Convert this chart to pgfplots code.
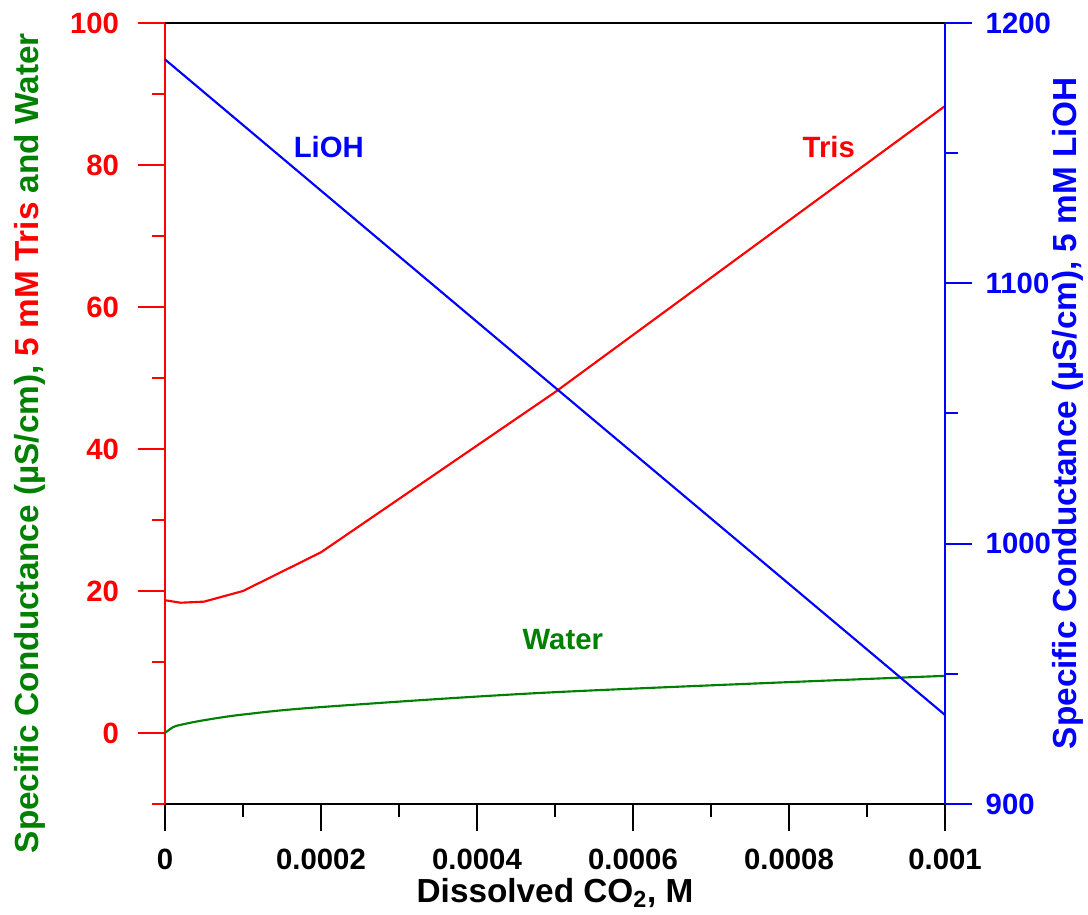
\documentclass[border=0pt]{standalone}
\usepackage{fontspec}
\setmainfont{Liberation Sans}
\usepackage{pgfplots}
\pgfplotsset{compat=1.18}
\definecolor{wgreen}{RGB}{0,128,0}

\pgfplotsset{
  condbase/.style={
    scale only axis,
    width=585pt, height=585.75pt,
    xmin=0, xmax=0.001,
    font=\fontsize{22}{26}\selectfont\bfseries,
    label style={font=\fontsize{25}{30}\selectfont\bfseries},
    /pgf/number format/assume math mode=true,
    /pgf/number format/set thousands separator={},
    tick align=outside,
    major tick length=20pt, minor tick length=10pt,
    every tick/.append style={line width=1.5pt},
    axis line style={line width=2pt},
    scaled x ticks=false, scaled y ticks=false,
    clip=false,
  },
}

\begin{document}
\begin{tikzpicture}
\path[use as bounding box] (-123.75pt,-82.5pt) rectangle (692.25pt,603pt);

% left axis: Tris and water
\begin{axis}[
  condbase,
  axis x line*=bottom, axis y line*=left,
  x axis line style={black}, x tick style={black},
  xtick={0,0.0002,0.0004,0.0006,0.0008,0.001},
  xticklabels={0,0.0002,0.0004,0.0006,0.0008,0.001},
  xticklabel style={yshift=-10pt},
  minor x tick num=1,
  ymin=-10, ymax=100,
  ytick={0,20,40,60,80,100}, minor y tick num=1,
  extra y ticks={-10}, extra y tick labels={},
  extra y tick style={major tick length=10pt},
  y axis line style={red}, y tick style={red},
  yticklabel style={red, xshift=-11pt},
  xlabel={Dissolved CO\textsubscript{2}, M},
  xlabel style={at={(axis description cs:0.5,-0.114)}, anchor=center},
  ylabel={\textcolor{wgreen}{Specific Conductance (\textmu S/cm),}~\textcolor{red}{5 mM Tris}~\textcolor{wgreen}{and Water}},
  ylabel style={at={(axis description cs:-0.173,0.462)}, anchor=center},
]
\addplot[red, line width=1.6pt] coordinates {
  (0,18.7) (0.00002,18.35) (0.00005,18.5) (0.0001,20.0)
  (0.0002,25.45) (0.0005,48.0) (0.001,88.3)
};
\addplot[wgreen, line width=1.6pt, smooth] coordinates {
  (0,0) (0.00001,0.8) (0.00002,1.15) (0.00005,1.8) (0.0001,2.6)
  (0.0002,3.65) (0.0005,5.75) (0.001,8.05)
};
\node[blue] at (axis cs:0.00021,82.5) {LiOH};
\node[red] at (axis cs:0.000851,82.5) {Tris};
\node[wgreen] at (axis cs:0.00051,13.1) {Water};
\end{axis}

% right axis: LiOH
\begin{axis}[
  condbase,
  axis x line*=top, axis y line*=right,
  x axis line style={black}, xtick=\empty,
  ymin=900, ymax=1200,
  ytick={900,1000,1100,1200}, minor y tick num=1,
  y axis line style={blue}, y tick style={blue},
  yticklabel style={blue, xshift=7pt},
  ylabel={Specific Conductance (\textmu S/cm), 5 mM LiOH},
  ylabel style={at={(axis description cs:1.158,0.5)}, anchor=center, blue},
]
\addplot[blue, line width=1.6pt] coordinates {
  (0,1186) (0.0005,1060) (0.001,934.2)
};
\end{axis}
\end{tikzpicture}
\end{document}
